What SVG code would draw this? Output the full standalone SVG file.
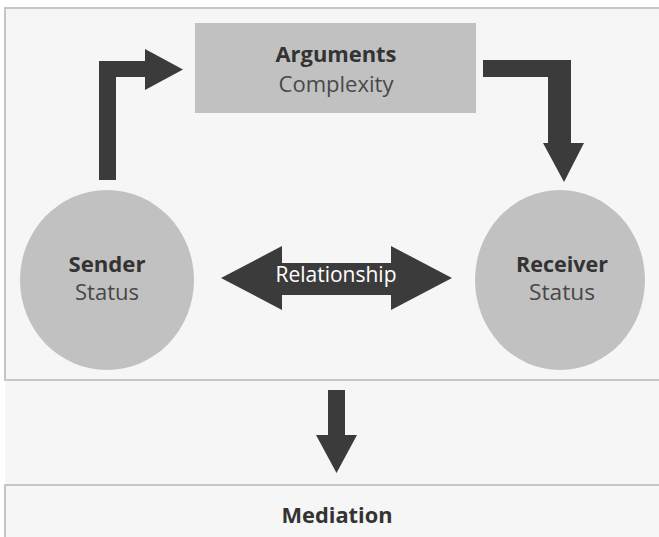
<svg xmlns="http://www.w3.org/2000/svg" width="659" height="537" viewBox="0 0 659 537">
<style>
.node{fill:#c1c1c1}
.arrow{fill:#3b3b3b}
text{font-family:"Open Sans","Liberation Sans",sans-serif;font-size:22px;text-anchor:middle}
.b{font-weight:bold;fill:#333}
.r{fill:#484848}
</style>
<rect x="0" y="0" width="659" height="537" fill="#ffffff"/>
<rect x="5" y="9" width="660" height="537" fill="#f6f6f6"/>
<g id="panels">
<path d="M5,380 V8 H659" fill="none" stroke="#c6c6c6" stroke-width="2"/>
<line x1="4" y1="380" x2="659" y2="380" stroke="#c6c6c6" stroke-width="2"/>
<path d="M5,537 V485 H659" fill="none" stroke="#c6c6c6" stroke-width="2"/>
</g>
<g id="connectors">
<path class="arrow" d="M99,180 V61 H145 V49 L183,69.5 L145,90 V77 H116 V180 Z"/>
<path class="arrow" d="M483,60 H571 V143 H584 L564,182 L543,143 H548 V77 H483 Z"/>
<path class="arrow" d="M221,278 L282,246 V263 H391 V246 L452,278 L391,310 V295 H282 V310 Z"/>
<path class="arrow" d="M328,390 H345 V435 H357 L336.5,473 L316,435 H328 Z"/>
</g>
<g id="arguments">
<rect class="node" x="195" y="23" width="281" height="90"/>
<text class="b" x="336" y="62" textLength="121" lengthAdjust="spacingAndGlyphs">Arguments</text>
<text class="r" x="336" y="92" textLength="115" lengthAdjust="spacingAndGlyphs">Complexity</text>
</g>
<g id="sender">
<ellipse class="node" cx="107" cy="280" rx="87" ry="90"/>
<text class="b" x="107" y="272" textLength="77" lengthAdjust="spacingAndGlyphs">Sender</text>
<text class="r" x="107" y="300" textLength="64" lengthAdjust="spacingAndGlyphs">Status</text>
</g>
<g id="receiver">
<ellipse class="node" cx="560" cy="280" rx="85" ry="90"/>
<text class="b" x="562" y="272" textLength="92" lengthAdjust="spacingAndGlyphs">Receiver</text>
<text class="r" x="562" y="300" textLength="66" lengthAdjust="spacingAndGlyphs">Status</text>
</g>
<g id="relationship">
<text x="336" y="282" fill="#ffffff" textLength="121" lengthAdjust="spacingAndGlyphs">Relationship</text>
</g>
<g id="mediation">
<text class="b" x="337" y="523" textLength="111" lengthAdjust="spacingAndGlyphs">Mediation</text>
</g>
</svg>
